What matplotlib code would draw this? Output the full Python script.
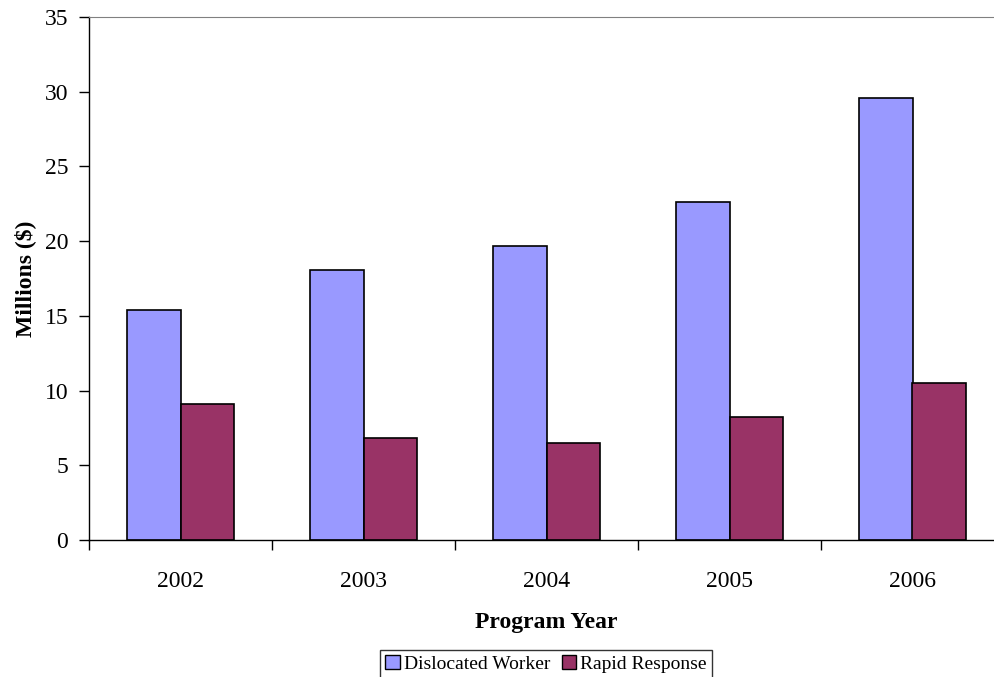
import numpy as np
import matplotlib.pyplot as plt
from matplotlib.patches import Patch

years = ['2002', '2003', '2004', '2005', '2006']
dislocated_worker = [15.4, 18.1, 19.7, 22.6, 29.6]
rapid_response = [9.1, 6.8, 6.5, 8.2, 10.5]

plt.rcParams['font.family'] = ['Liberation Serif', 'DejaVu Serif']

fig = plt.figure(figsize=(9.94, 6.77), dpi=100)
ax = fig.add_axes([89 / 994, 137 / 677, 915 / 994, 523 / 677])

x = np.arange(len(years))
w = 0.29
ax.bar(x - w / 2, dislocated_worker, w, color='#9999FF', edgecolor='black', linewidth=1.2)
ax.bar(x + w / 2, rapid_response, w, color='#993366', edgecolor='black', linewidth=1.2)

ax.set_xlim(-0.5, len(years) - 0.5)
ax.set_ylim(0, 35)
ax.set_yticks(range(0, 36, 5))
ax.set_xticks(x)
ax.set_xticklabels(years)
ax.set_xticks(np.arange(-0.5, len(years)), minor=True)
ax.tick_params(axis='x', which='major', length=0, pad=22, labelsize=17)
ax.tick_params(axis='x', which='minor', length=7, width=1, direction='out')
ax.tick_params(axis='y', length=7, width=1, direction='out', pad=8, labelsize=17)

ax.spines['right'].set_visible(False)
ax.spines['top'].set_color('#808080')
ax.spines['left'].set_linewidth(1)
ax.spines['bottom'].set_linewidth(1)

ax.set_ylabel('Millions ($)', fontsize=17, fontweight='bold', labelpad=6)
ax.set_xlabel('Program Year', fontsize=17, fontweight='bold', labelpad=15)

handles = [Patch(facecolor='#9999FF', edgecolor='black', label='Dislocated Worker'),
           Patch(facecolor='#993366', edgecolor='black', label='Rapid Response')]
leg = fig.legend(handles=handles, loc='center', bbox_to_anchor=(546 / 994, 1 - 664 / 677),
                 ncol=2, fontsize=14, frameon=True, fancybox=False, edgecolor='black',
                 handlelength=0.75, handleheight=0.75, handletextpad=0.2, columnspacing=0.6,
                 borderpad=0.25, borderaxespad=0)
leg.get_frame().set_linewidth(1)

fig.savefig('out.png', dpi=100)
